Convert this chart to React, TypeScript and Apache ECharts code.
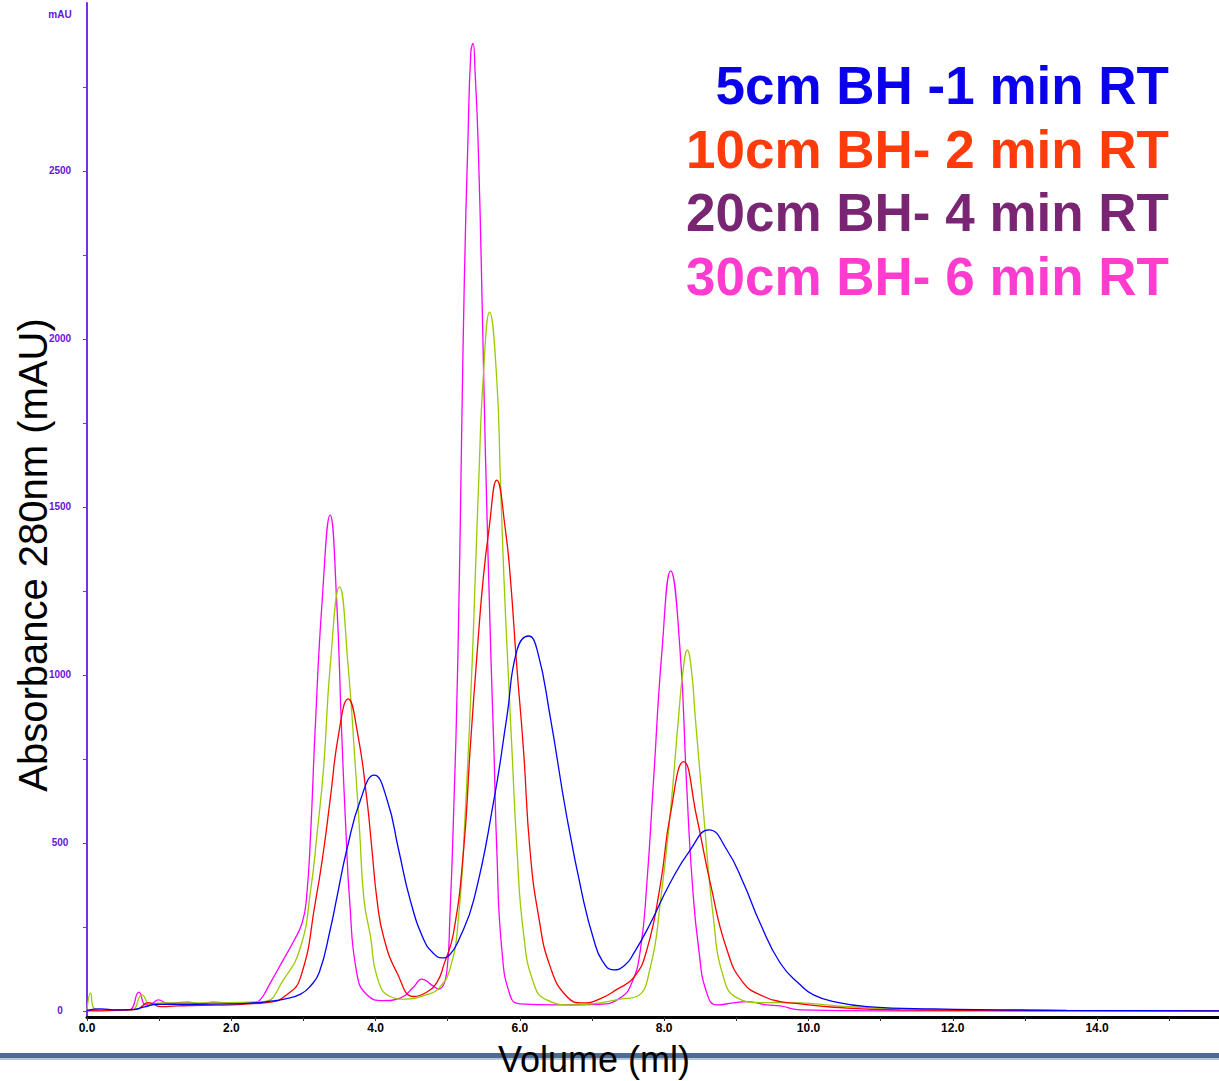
import React, { useEffect, useRef } from "react";
import * as echarts from "echarts";

// Chromatogram traces: [volume (ml), absorbance 280nm (mAU)]
const trace5cm: number[][] = [
  [0, 2], [0.19, 6], [0.4, 3], [0.6, 4], [0.8, 12], [0.97, 20], [1.5, 20], [2.0, 21], [2.26, 23], [2.5, 28],
  [2.75, 36], [2.96, 50], [3.1, 75], [3.22, 115], [3.37, 241], [3.47, 345], [3.6, 479], [3.79, 628], [3.98, 702],
  [4.16, 628], [4.32, 479], [4.48, 330], [4.67, 211], [4.8, 172], [4.92, 158], [5.03, 168], [5.15, 210], [5.36, 330],
  [5.64, 628], [5.82, 876], [5.96, 1074], [6.12, 1116], [6.24, 1074], [6.42, 876], [6.65, 578], [6.88, 330],
  [7.02, 215], [7.14, 150], [7.3, 122], [7.45, 135], [7.58, 172], [7.81, 261], [8.08, 380], [8.36, 479], [8.62, 539],
  [8.87, 479], [9.1, 380], [9.33, 261], [9.61, 142], [9.89, 77], [10.07, 48], [10.35, 28], [10.81, 13], [11.73, 6],
  [13.58, 2], [15.69, 0],
];
const trace10cm: number[][] = [
  [0, 0], [0.4, 2], [0.69, 5], [0.85, 25], [1.02, 13], [1.25, 15], [1.6, 17], [2.0, 18], [2.3, 22], [2.54, 26],
  [2.75, 45], [2.96, 100], [3.17, 330], [3.28, 479], [3.37, 628], [3.49, 827], [3.62, 929], [3.75, 827], [3.88, 628],
  [3.95, 479], [4.02, 330], [4.11, 221], [4.3, 112], [4.53, 43], [4.7, 55], [4.85, 85], [4.95, 140], [5.08, 232],
  [5.22, 479], [5.31, 777], [5.41, 1074], [5.49, 1283], [5.57, 1431], [5.68, 1580], [5.8, 1431], [5.87, 1283],
  [5.95, 1045], [6.05, 777], [6.14, 479], [6.26, 281], [6.42, 132], [6.65, 43], [6.88, 24], [7.11, 36], [7.35, 65],
  [7.58, 100], [7.76, 182], [7.95, 380], [8.08, 578], [8.27, 742], [8.45, 578], [8.64, 380], [8.87, 182], [9.1, 83],
  [9.38, 43], [9.61, 28], [9.89, 21], [10.35, 11], [11.27, 3], [13, 1], [15.69, 0],
];
const trace20cm: number[][] = [
  [0, 3], [0.05, 53], [0.1, 8], [0.3, 3], [0.62, 3], [0.76, 48], [0.88, 18], [1.02, 24], [1.5, 24], [2.0, 25],
  [2.45, 28], [2.72, 92], [2.96, 191], [3.1, 360], [3.19, 530], [3.28, 726], [3.37, 1024], [3.5, 1262], [3.62, 1024],
  [3.72, 726], [3.78, 530], [3.84, 330], [3.93, 221], [4.02, 102], [4.2, 43], [4.43, 35], [4.7, 48], [4.88, 68],
  [5.04, 132], [5.15, 281], [5.24, 578], [5.34, 1045], [5.38, 1283], [5.43, 1580], [5.49, 1878], [5.58, 2080],
  [5.68, 1878], [5.73, 1580], [5.78, 1283], [5.83, 1045], [5.89, 777], [5.96, 479], [6.05, 232], [6.19, 83],
  [6.37, 33], [6.74, 18], [7.11, 24], [7.39, 35], [7.62, 43], [7.81, 132], [7.95, 330], [8.08, 578], [8.2, 876],
  [8.26, 1010], [8.32, 1074], [8.38, 1010], [8.43, 876], [8.55, 578], [8.68, 281], [8.82, 102], [9.01, 39],
  [9.33, 25], [9.61, 25], [9.89, 24], [10.35, 16], [11.27, 6], [13, 2], [15.69, 0],
];
const trace30cm: number[][] = [
  [0, 2], [0.3, 3], [0.58, 3], [0.72, 56], [0.81, 18], [0.9, 22], [0.99, 33], [1.11, 23], [1.39, 26], [1.57, 21],
  [1.75, 26], [2.03, 23], [2.31, 25], [2.4, 33], [2.54, 83], [2.72, 152], [2.86, 206], [2.98, 261], [3.04, 330],
  [3.1, 530], [3.16, 827], [3.26, 1223], [3.37, 1476], [3.46, 1223], [3.53, 827], [3.59, 530], [3.64, 330],
  [3.74, 112], [3.88, 48], [4.11, 31], [4.34, 38], [4.53, 72], [4.64, 95], [4.78, 77], [4.87, 65], [4.99, 122],
  [5.03, 281], [5.08, 578], [5.14, 1045], [5.19, 1678], [5.23, 2175], [5.28, 2592], [5.32, 2854], [5.35, 2880],
  [5.38, 2790], [5.42, 2592], [5.47, 2175], [5.52, 1678], [5.6, 1045], [5.64, 777], [5.68, 479], [5.75, 182],
  [5.87, 43], [6.0, 21], [6.5, 18], [7.1, 20], [7.39, 39], [7.55, 83], [7.67, 182], [7.76, 380], [7.85, 678],
  [7.97, 1074], [8.09, 1310], [8.22, 1074], [8.31, 678], [8.39, 380], [8.48, 182], [8.59, 54], [8.73, 18],
  [8.96, 24], [9.15, 28], [9.42, 18], [9.61, 15], [9.89, 3], [11, 0], [13, 0], [15.69, 0],
];

const seriesNames = ["5cm BH -1 min RT", "10cm BH- 2 min RT", "20cm BH- 4 min RT", "30cm BH- 6 min RT"];
const lineColors = ["#0000ff", "#ff0000", "#99cc00", "#ff00ff"];
const legendColors = ["#0a00ee", "#ff3b0b", "#7a2574", "#ff3ccf"];

const yTickValues = [0, 250, 500, 750, 1000, 1250, 1500, 1750, 2000, 2250, 2500, 2750];
const yLabelValues = [0, 500, 1000, 1500, 2000, 2500];
const xTickValues = [0, 1, 2, 3, 4, 5, 6, 7, 8, 9, 10, 11, 12, 13, 14, 15];
const xLabelValues = [0, 2, 4, 6, 8, 10, 12, 14];

const FONT = '"Liberation Sans", Arial, Helvetica, sans-serif';
const AXIS_PURPLE = "#7a2ee6";
const LABEL_PURPLE = "#6a10e0";

export default function App() {
  const ref = useRef<HTMLDivElement>(null);

  useEffect(() => {
    if (!ref.current) return;
    const chart = echarts.init(ref.current, null, { renderer: "svg" });

    const traces = [trace5cm, trace10cm, trace20cm, trace30cm];
    const drawOrder = [3, 2, 1, 0];
    const series = drawOrder.map((i) => ({
      name: seriesNames[i],
      type: "line",
      data: traces[i],
      showSymbol: false,
      smooth: 0.5,
      clip: false,
      lineStyle: { color: lineColors[i], width: 1.3 },
      itemStyle: { color: lineColors[i] },
    }));

    const legendTexts = seriesNames.map((name, i) => ({
      type: "text",
      right: 50,
      top: 59 + i * 63.5,
      style: {
        text: name,
        fill: legendColors[i],
        font: `bold 53px ${FONT}`,
        textAlign: "right",
      },
    }));

    chart.setOption({
      animation: false,
      backgroundColor: "#ffffff",
      grid: { left: 87, right: 0, top: 3, bottom: 64, containLabel: false, outerBoundsMode: "none" },
      xAxis: {
        type: "value",
        min: 0,
        max: 15.69,
        axisLine: { onZero: false, lineStyle: { color: "#000000", width: 3 } },
        axisTick: { customValues: xTickValues, length: 4, lineStyle: { color: "#333333", width: 1 } },
        axisLabel: {
          customValues: xLabelValues,
          formatter: (v: number) => v.toFixed(1),
          color: "#000000",
          fontFamily: FONT,
          fontWeight: "bold",
          fontSize: 12,
          margin: 5,
        },
        splitLine: { show: false },
      },
      yAxis: {
        type: "value",
        min: -18,
        max: 3000,
        axisLine: { show: true, onZero: false, lineStyle: { color: AXIS_PURPLE, width: 2 } },
        axisTick: { show: true, customValues: yTickValues, length: 4, lineStyle: { color: AXIS_PURPLE, width: 1 } },
        axisLabel: {
          customValues: yLabelValues,
          formatter: (v: number) => String(Math.round(v)),
          color: LABEL_PURPLE,
          fontFamily: FONT,
          fontWeight: "bold",
          fontSize: 10,
          align: "center",
          margin: 27,
        },
        splitLine: { show: false },
      },
      series,
      graphic: [
        {
          type: "rect",
          shape: { x: 0, y: 1053, width: 1219, height: 5 },
          style: { fill: "#4d6b93" },
          z: 10,
        },
        {
          type: "rect",
          shape: { x: 0, y: 1058, width: 1219, height: 2 },
          style: { fill: "#b8c5d6" },
          z: 10,
        },
        {
          type: "text",
          x: 594,
          y: 1059,
          z: 11,
          style: {
            text: "Volume (ml)",
            fill: "#000000",
            font: `36px ${FONT}`,
            textAlign: "center",
            textVerticalAlign: "middle",
          },
        },
        {
          type: "text",
          x: 33,
          y: 555,
          rotation: Math.PI / 2,
          z: 11,
          style: {
            text: "Absorbance 280nm (mAU)",
            fill: "#000000",
            font: `40px ${FONT}`,
            textAlign: "center",
            textVerticalAlign: "middle",
          },
        },
        {
          type: "text",
          x: 60,
          y: 14,
          z: 11,
          style: {
            text: "mAU",
            fill: LABEL_PURPLE,
            font: `bold 10px ${FONT}`,
            textAlign: "center",
            textVerticalAlign: "middle",
          },
        },
        ...legendTexts,
      ],
    });

    return () => chart.dispose();
  }, []);

  return (
    <div
      ref={ref}
      style={{ position: "absolute", left: 0, top: 0, width: 1219, height: 1081, background: "#fff" }}
    />
  );
}
